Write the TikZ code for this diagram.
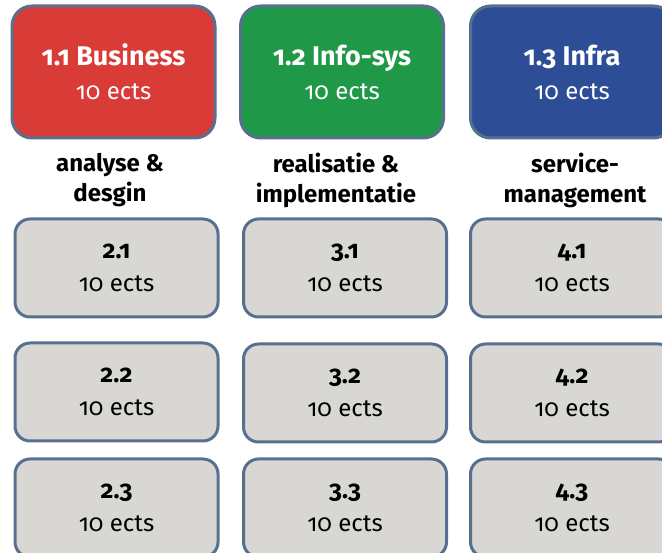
\documentclass[tikz,border=0pt]{standalone}
\usepackage{fontspec}
\setmainfont{Fira Sans}[Numbers=OldStyle]
\definecolor{bizred}{RGB}{217,59,54}
\definecolor{infogreen}{RGB}{31,152,72}
\definecolor{infrablue}{RGB}{45,78,151}
\definecolor{modgray}{RGB}{216,215,211}
\definecolor{rimblue}{RGB}{87,112,143}
\newcommand{\trackname}[1]{{\bfseries\fontsize{27}{34}\selectfont #1}}
\newcommand{\modnum}[1]{{\bfseries\fontsize{25}{33}\selectfont #1}}
\tikzset{
  track/.style={draw=rimblue,line width=3pt,rounded corners=20pt,
    minimum width=203pt,minimum height=132pt,text=white,align=center,
    font=\fontsize{24}{34}\selectfont},
  module/.style={draw=rimblue,fill=modgray,line width=3pt,rounded corners=15pt,
    minimum width=203pt,minimum height=98pt,align=center,
    font=\fontsize{24}{33}\selectfont},
  theme/.style={align=center,font=\bfseries\fontsize{24}{30}\selectfont}
}
\begin{document}
\begin{tikzpicture}[x=1pt,y=-1pt]
  \useasboundingbox (0,0) rectangle (662,553);
  \clip (0,0) rectangle (662,553);

  % first year tracks
  \node[track,fill=bizred]    (t1) at (113.5,72) {\trackname{1.1 Business}\\10 ects};
  \node[track,fill=infogreen] (t2) at (342,72)   {\trackname{1.2 Info-sys}\\10 ects};
  \node[track,fill=infrablue] (t3) at (572,72)   {\trackname{1.3 Infra}\\10 ects};

  \node[theme] (h1) at (110,180) {analyse \&\\desgin};
  \node[theme] (h2) at (336,180) {realisatie \&\\implementatie};
  \node[theme] (h3) at (575,180) {service-\\management};

  % modules per track
  \begin{scope}[every node/.style={module}]
    \node (m21) at (116.5,268) {\modnum{2.1}\\10 ects};
    \node (m22) at (116.5,392) {\modnum{2.2}\\10 ects};
    \node (m23) at (116.5,508) {\modnum{2.3}\\10 ects};
    \node (m31) at (345,268)   {\modnum{3.1}\\10 ects};
    \node (m32) at (345,393)   {\modnum{3.2}\\10 ects};
    \node (m33) at (345,508)   {\modnum{3.3}\\10 ects};
    \node (m41) at (572,268)   {\modnum{4.1}\\10 ects};
    \node (m42) at (572,393)   {\modnum{4.2}\\10 ects};
    \node (m43) at (572,508)   {\modnum{4.3}\\10 ects};
  \end{scope}

\end{tikzpicture}
\end{document}
